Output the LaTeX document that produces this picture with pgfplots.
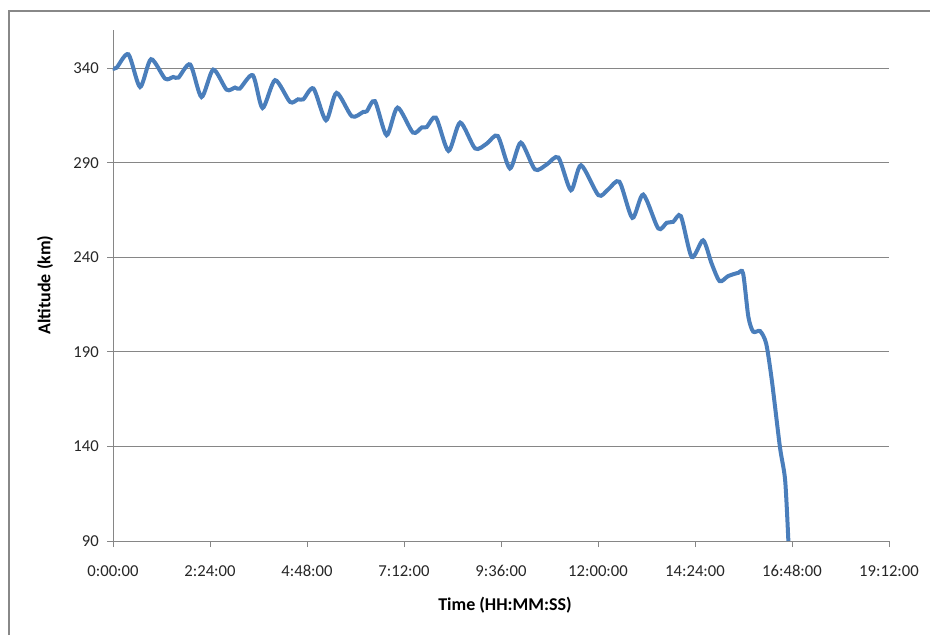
\documentclass[border=0pt]{standalone}
\usepackage{fontspec}
\setmainfont{Carlito}
\usepackage{pgfplots}
\pgfplotsset{compat=1.18}
\definecolor{linecol}{RGB}{74,126,187}
\definecolor{gridcol}{RGB}{134,134,134}
\definecolor{framecol}{RGB}{136,136,136}
\begin{document}
\fontsize{13.5}{16}\selectfont
\begin{tikzpicture}
\useasboundingbox (-84.75pt,-70.5pt) rectangle (612.75pt,405.75pt);
\draw[framecol, line width=1.6pt] (-78pt,-70.5pt) -- (-78pt,397.5pt) -- (612.75pt,397.5pt);
\begin{axis}[
  at={(0pt,0pt)}, anchor=origin,
  scale only axis,
  width=582pt, height=382.9pt,
  xmin=0, xmax=19.2, ymin=90, ymax=360,
  axis lines*=left,
  axis line style={gridcol, line width=0.75pt},
  xtick={0,2.4,4.8,7.2,9.6,12,14.4,16.8,19.2},
  xticklabels={0:00:00,2:24:00,4:48:00,7:12:00,9:36:00,12:00:00,14:24:00,16:48:00,19:12:00},
  ytick={90,140,190,240,290,340},
  tick align=outside,
  major tick length=4.5pt,
  tick style={gridcol, line width=0.75pt},
  ymajorgrids,
  grid style={gridcol, line width=0.75pt},
  /pgf/number format/assume math mode=true,
  tick label style={font=\fontsize{12.5}{15}\selectfont, text=black!85},
  xticklabel style={yshift=-9pt},
  yticklabel style={xshift=-1.5pt},
  clip=false,
]
\addplot[linecol, line width=3pt, smooth, tension=0.45] coordinates {
(0,340) (0.09,340.3) (0.38,347.4) (0.67,330.1) (0.94,344.8) (1.29,334.5)
(1.49,335.4) (1.62,335.1) (1.91,342.0) (2.19,324.8) (2.48,339.3) (2.81,328.7)
(3.02,329.8) (3.14,329.3) (3.46,336.3) (3.70,319.0) (4.01,333.7) (4.38,322.2)
(4.58,323.6) (4.71,323.6) (4.96,329.3) (5.27,312.5) (5.53,327.0) (5.91,314.6)
(6.19,316.9) (6.28,317.3) (6.48,322.6) (6.77,304.6) (7.04,319.2) (7.42,306.0)
(7.64,308.7) (7.76,308.9) (7.99,313.9) (8.30,296.3) (8.59,311.3) (8.96,297.6)
(9.25,300.2) (9.52,304.2) (9.82,287.0) (10.09,300.7) (10.44,286.5) (10.73,289.1)
(11.02,292.8) (11.33,275.5) (11.58,288.7) (12.01,272.9) (12.25,275.9) (12.53,280.0)
(12.85,260.9) (13.12,273.2) (13.49,255.3) (13.70,258.3) (13.86,258.8) (14.05,261.8)
(14.32,240.2) (14.60,249.0) (14.81,236.8) (15.01,227.4) (15.22,230.1) (15.47,231.8)
(15.59,231.5) (15.72,208.6) (15.84,200.7) (16.01,201.0) (16.16,194.5) (16.30,175.1)
(16.50,139.9) (16.63,122.2) (16.71,90)
};
\end{axis}
\node[rotate=90, font=\bfseries\fontsize{13.5}{16}\selectfont] at (-51pt,192pt) {Altitude (km)};
\node[font=\bfseries\fontsize{13.5}{16}\selectfont] at (294pt,-48pt) {Time (HH:MM:SS)};
\end{tikzpicture}
\end{document}
